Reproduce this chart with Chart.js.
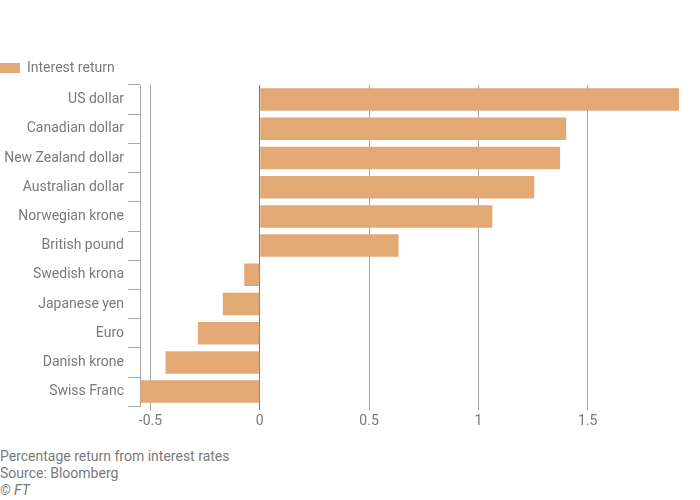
<!DOCTYPE html>
<html><head><meta charset="utf-8">
<script src="https://cdn.jsdelivr.net/npm/chart.js@4/dist/chart.umd.min.js"></script>
<style>
html,body{margin:0;padding:0;background:#fff;}
#wrap{position:relative;width:700px;height:500px;}
#c{position:absolute;left:0;top:0;}
.note{position:absolute;left:0;font-family:Roboto,sans-serif;font-size:14px;color:#7a7a7a;line-height:17px;}
</style></head><body>
<div id="wrap">
<canvas id="c" width="700" height="433"></canvas>
<div class="note" style="top:448px">Percentage return from interest rates</div>
<div class="note" style="top:465px">Source: Bloomberg</div>
<div class="note" style="top:482px;font-style:italic">© FT</div>
</div>
<script>
const categories = ["US dollar","Canadian dollar","New Zealand dollar","Australian dollar","Norwegian krone","British pound","Swedish krona","Japanese yen","Euro","Danish krone","Swiss Franc"];
const interestReturn = [1.918, 1.402, 1.374, 1.256, 1.064, 0.635, -0.071, -0.169, -0.283, -0.431, -0.545];
const xTicks = [-0.5, 0, 0.5, 1, 1.5];
const seriesName = "Interest return";

const font = {family: "Roboto, sans-serif", size: 14};
const textColor = '#7a7a7a';

new Chart(document.getElementById('c'), {
  type: 'bar',
  data: {
    labels: categories,
    datasets: [{
      label: seriesName,
      data: interestReturn,
      backgroundColor: '#e2a974',
      borderWidth: 0,
      barPercentage: 0.77,
      categoryPercentage: 1.0
    }]
  },
  options: {
    indexAxis: 'y',
    responsive: false,
    animation: false,
    layout: {padding: {top: 61, right: 21, left: 0, bottom: 0}},
    plugins: {
      legend: {
        display: true,
        position: 'top',
        align: 'start',
        labels: {boxWidth: 20, boxHeight: 10, padding: 0, color: textColor, font: font}
      },
      tooltip: {enabled: false}
    },
    scales: {
      x: {
        min: -0.548,
        max: 1.918,
        afterBuildTicks: (s) => { s.ticks = xTicks.map(v => ({value: v})); },
        ticks: {color: textColor, font: font, padding: 3, includeBounds: false,
          callback: (v) => String(v)},
        grid: {
          color: (ctx) => ctx.tick && ctx.tick.value === 0 ? '#7a7a7a' : '#a8a8a8',
          lineWidth: 1,
          tickLength: 4,
          drawTicks: true
        },
        border: {display: false}
      },
      y: {
        afterFit: (s) => { s.width = 140; },
        ticks: {color: textColor, font: font, padding: 4},
        grid: {drawOnChartArea: false, drawTicks: true, tickLength: 12, color: '#a8a8a8'},
        border: {display: true, color: '#a8a8a8'}
      }
    }
  }
});
</script>
</body></html>
